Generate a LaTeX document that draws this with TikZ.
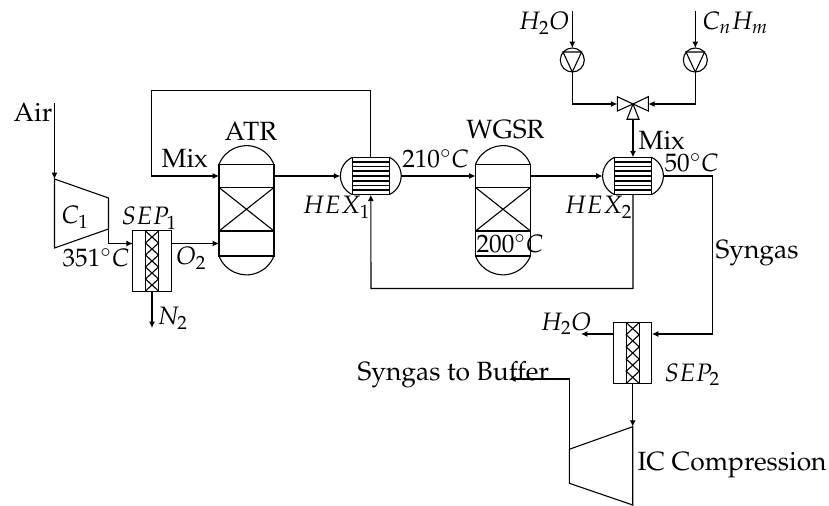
\documentclass[tikz,border=0pt]{standalone}
\usepackage[T1]{fontenc}
\usepackage{mathpazo}
\usetikzlibrary{arrows.meta}
\tikzset{
	unit/.style={draw, inner sep=0pt, outer sep=0pt},
	chamber/.style={unit, minimum width=27.5pt, minimum height=11.5pt},
	sump/.style={unit, minimum width=27.5pt, minimum height=12.5pt},
	bed/.style={unit, minimum width=27.5pt, minimum height=21.75pt},
	sepbody/.style={unit, minimum width=19.2pt, minimum height=30.5pt},
	sepmid/.style={unit, minimum width=6.5pt, minimum height=30.5pt},
	hexbody/.style={unit, minimum width=18.5pt, minimum height=18.7pt},
	pumpbody/.style={unit, circle, minimum size=12pt},
	stream/.style={-{Latex[length=3.2pt,width=3pt]}},
	lbl/.style={inner sep=0pt, anchor=base west, font=\fontsize{12.6}{14}\selectfont},
	txt/.style={lbl, font=\fontsize{13.2}{15}\selectfont}
}
\begin{document}
\begin{tikzpicture}[x=0.5pt,y=0.5pt,yscale=-1,xscale=1,line width=0.55pt]
	\useasboundingbox (0,0) rectangle (829,506);

	% Compressor C1
	\coordinate (airin) at (54.5,103);
	\coordinate (coneinlet) at (54.5,179);
	\coordinate (coneoutlet) at (108.5,229);
	\draw (coneinlet) -- (108.5,198) -- (coneoutlet) -- (54.5,248) -- cycle;

	% Separator 1
	\node[sepbody] (sepone) at (152,261) {};
	\node[sepmid] (seponemid) at (sepone) {};
	\draw (145.5,231) -- (158.5,243) -- (145.5,255) -- (158.5,267) -- (145.5,279) -- (158.5,291);
	\draw (158.5,231) -- (145.5,243) -- (158.5,255) -- (145.5,267) -- (158.5,279) -- (145.5,291);
	\coordinate (ntwoout) at (152,328);

	% ATR reactor
	\node[chamber] (atrtop) at (246.5,176) {};
	\node[bed] (atrbed) at (246.5,209.25) {};
	\node[sump] (atrbot) at (246.5,243.5) {};
	\draw (atrtop.north west) arc[start angle=201,end angle=339,radius=29.4];
	\draw (atrbot.south west) arc[start angle=159,end angle=21,radius=29.4];
	\draw (atrbed.north west) -- (atrbed.south east);
	\draw (atrbed.south west) -- (atrbed.north east);

	% Heat exchanger 1
	\node[hexbody] (hexone) at (370.8,176) {};
	\draw (hexone.north west) arc[start angle=245,end angle=115,radius=20.6];
	\draw (hexone.north east) arc[start angle=295,end angle=425,radius=20.6];
	\draw (352.3,162) -- (389.3,162) (352.3,166.5) -- (389.3,166.5) (352.3,171) -- (389.3,171)
	(352.3,176) -- (389.3,176) (352.3,181) -- (389.3,181) (352.3,185.5) -- (389.3,185.5) (352.3,190) -- (389.3,190);

	% WGSR reactor
	\node[chamber] (wgsrtop) at (503,176) {};
	\node[bed] (wgsrbed) at (503,209.25) {};
	\node[sump] (wgsrbot) at (503,243.5) {};
	\draw (wgsrtop.north west) arc[start angle=201,end angle=339,radius=29.4];
	\draw (wgsrbot.south west) arc[start angle=159,end angle=21,radius=29.4];
	\draw (wgsrbed.north west) -- (wgsrbed.south east);
	\draw (wgsrbed.south west) -- (wgsrbed.north east);

	% Heat exchanger 2
	\node[hexbody] (hextwo) at (633,176) {};
	\draw (hextwo.north west) arc[start angle=245,end angle=115,radius=20.6];
	\draw (hextwo.north east) arc[start angle=295,end angle=425,radius=20.6];
	\draw (614.5,162) -- (651.5,162) (614.5,166.5) -- (651.5,166.5) (614.5,171) -- (651.5,171)
	(614.5,176) -- (651.5,176) (614.5,181) -- (651.5,181) (614.5,185.5) -- (651.5,185.5) (614.5,190) -- (651.5,190);

	% Pumps
	\coordinate (waterin) at (572.3,11);
	\coordinate (fuelin) at (695.3,11);
	\node[pumpbody] (pumpone) at (572.3,60) {};
	\node[pumpbody] (pumptwo) at (695.3,60) {};
	\draw (563,52) -- (581.6,52) -- (pumpone.south) -- cycle;
	\draw (686,52) -- (704.6,52) -- (pumptwo.south) -- cycle;

	% Three way valve
	\coordinate (valve) at (633,104);
	\coordinate (valveleft) at (617.3,104);
	\coordinate (valveright) at (648.3,104);
	\coordinate (valvebottom) at (633,119.3);
	\draw (valve) -- (617.3,96.7) -- (617.3,111) -- cycle;
	\draw (valve) -- (648.3,96.7) -- (648.3,111) -- cycle;
	\draw (valve) -- (627,119.3) -- (639,119.3) -- cycle;

	% Separator 2
	\node[sepbody] (septwo) at (632.7,353) {};
	\node[sepmid] (septwomid) at (septwo) {};
	\draw (626.2,322.5) -- (639.2,334.7) -- (626.2,346.9) -- (639.2,359.1) -- (626.2,371.3) -- (639.2,383.5);
	\draw (639.2,322.5) -- (626.2,334.7) -- (639.2,346.9) -- (626.2,359.1) -- (639.2,371.3) -- (626.2,383.5);
	\coordinate (waterout) at (581,334);

	% Compressor IC
	\coordinate (icinlet) at (632.7,426.7);
	\coordinate (icoutlet) at (569.3,449.3);
	\coordinate (bufferout) at (509.3,379);
	\draw (icinlet) -- (632.7,505) -- (569.3,483.3) -- (icoutlet) -- cycle;

	% Streams on the left
	\draw[stream] (airin) -- (coneinlet);
	\draw[stream] (coneoutlet) |- (sepone.west |- atrbot.west);
	\draw[stream] (sepone.east |- atrbot.west) -- (atrbot.west);
	\draw[stream] (sepone.south) -- (ntwoout);

	% Streams through the reactors
	\draw[stream] (hexone.north) |- (151.5,90.5) |- (atrtop.west);
	\draw[stream] (atrtop.east) -- ([xshift=-6pt]hexone.west);
	\draw[stream] ([xshift=6pt]hexone.east) -- (wgsrtop.west);
	\draw[stream] (wgsrtop.east) -- ([xshift=-6pt]hextwo.west);
	\draw[stream] (hextwo.south) |- (371,288.5) -- (hexone.south);

	% Streams of the feed
	\draw[stream] (waterin) -- (pumpone.north);
	\draw[stream] (fuelin) -- (pumptwo.north);
	\draw[stream] (pumpone.south) |- (valveleft);
	\draw[stream] (pumptwo.south) |- (valveright);
	\draw[stream] (valvebottom) -- (hextwo.north);

	% Streams to the outlet
	\draw[stream] ([xshift=6pt]hextwo.east) -| (712.5,334) -- (septwo.east |- waterout);
	\draw[stream] (septwo.west |- waterout) -- (waterout);
	\draw[stream] (septwo.south) -- (icinlet);
	\draw[stream] (icoutlet) |- (bufferout);

	% Text for labels
	\node[txt] (airlabel) at (13,121.5) {Air};
	\node[lbl] (conelabel) at (61,224) {\(C_{1}\)};
	\node[lbl] (seponelabel) at (121,225) {\(SEP_{1}\)};
	\node[lbl] (coneout) at (62,267) {\(351^{\circ}C\)};
	\node[lbl] (otwolabel) at (176,265) {\(O_{2}\)};
	\node[lbl] (ntwolabel) at (157,325) {\(N_{2}\)};
	\node[txt] (mixone) at (161,168) {Mix};
	\node[txt] (atrlabel) at (224,140.5) {ATR};
	\node[lbl] (hexonelabel) at (302,214) {\(HEX_{1}\)};
	\node[lbl] (hexoneout) at (401.7,168) {\(210^{\circ}C\)};
	\node[txt] (wgsrlabel) at (465.7,139) {WGSR};
	\node[lbl] (wgsrout) at (476,253) {\(200^{\circ}C\)};
	\node[lbl] (hextwolabel) at (564,214) {\(HEX_{2}\)};
	\node[lbl] (waterlabel) at (518,30) {\(H_{2}O\)};
	\node[lbl] (fuellabel) at (702,30) {\(C_{n}H_{m}\)};
	\node[txt] (mixtwo) at (638,150) {Mix};
	\node[lbl] (hextwoout) at (664,171.5) {\(50^{\circ}C\)};
	\node[txt] (syngaslabel) at (715,259) {Syngas};
	\node[lbl] (wateroutlabel) at (540,330.5) {\(H_{2}O\)};
	\node[lbl] (septwolabel) at (664,381.5) {\(SEP_{2}\)};
	\node[txt] (bufferlabel) at (357,381) {Syngas to Buffer};
	\node[txt] (iclabel) at (637,471) {IC Compression};
\end{tikzpicture}
\end{document}
